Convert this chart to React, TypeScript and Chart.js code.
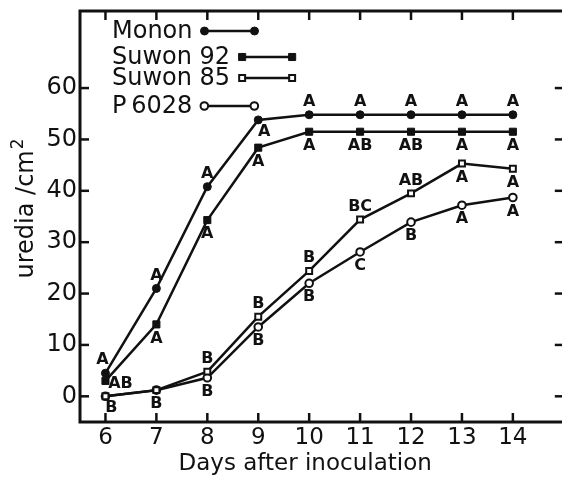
import React, { useEffect, useRef } from "react";
import { Chart, registerables } from "chart.js";

Chart.register(...registerables);

// ---- data ----
const days = [6, 7, 8, 9, 10, 11, 12, 13, 14];
const yTickValues = [0, 10, 20, 30, 40, 50, 60];
const seriesNames = ["Monon", "Suwon 92", "Suwon 85", "P\u20096028"];

const mononValues = [4.5, 21, 40.8, 53.8, 54.8, 54.8, 54.8, 54.8, 54.8];
const suwon92Values = [3, 14, 34.3, 48.4, 51.5, 51.5, 51.5, 51.5, 51.5];
const suwon85Values = [0, 1.2, 4.8, 15.5, 24.4, 34.4, 39.5, 45.3, 44.3];
const p6028Values = [0, 1.2, 3.6, 13.5, 22.0, 28.1, 33.9, 37.2, 38.7];

const mononLetters = ["A", "A", "A", "A", "A", "A", "A", "A", "A"];
const suwon92Letters = ["AB", "A", "A", "A", "A", "AB", "AB", "A", "A"];
const suwon85Letters = ["B", "B", "B", "B", "B", "BC", "AB", "A", "A"];
const p6028Letters = ["", "", "B", "B", "B", "C", "B", "A", "A"];

// ---- styling (placement of letters relative to points) ----
const mononPlace = ["ul", "a", "a", "br", "a", "a", "a", "a", "a"];
const suwon92Place = ["r", "b", "b", "b", "b", "b", "b", "b", "b"];
const suwon85Place = ["br", "b", "a", "a", "a", "a", "a", "b", "b"];
const p6028Place = ["b", "b", "b", "b", "b", "b", "b", "b", "b"];

const placeOffsets: Record<string, [number, number]> = {
  a: [0, -13],
  b: [0, 14],
  ul: [-3, -13],
  br: [6, 12],
  r: [15, 3],
};

const FONT = "'DejaVu Sans', sans-serif";
const INK = "#111";

const letterSets = [mononLetters, suwon92Letters, suwon85Letters, p6028Letters];
const placeSets = [mononPlace, suwon92Place, suwon85Place, p6028Place];

const markerStyles = [
  { pointStyle: "circle", radius: 4, fill: INK, border: 1 },
  { pointStyle: "rect", radius: 5, fill: INK, border: 1 },
  { pointStyle: "rect", radius: 4.2, fill: "#fff", border: 2 },
  { pointStyle: "circle", radius: 3.8, fill: "#fff", border: 2 },
];

function drawMarker(ctx: CanvasRenderingContext2D, x: number, y: number, i: number) {
  const m = markerStyles[i];
  ctx.save();
  ctx.fillStyle = m.fill;
  ctx.strokeStyle = INK;
  ctx.lineWidth = m.border;
  ctx.beginPath();
  if (m.pointStyle === "circle") {
    ctx.arc(x, y, m.radius, 0, Math.PI * 2);
  } else {
    const s = m.radius * Math.SQRT1_2;
    ctx.rect(x - s, y - s, 2 * s, 2 * s);
  }
  ctx.fill();
  ctx.stroke();
  ctx.restore();
}

const decorPlugin = {
  id: "decor",
  afterDatasetsDraw(chart: any) {
    const { ctx, chartArea: ca, scales } = chart;
    const xs = scales.x;
    const ys = scales.y;
    ctx.save();

    // frame
    ctx.strokeStyle = INK;
    ctx.lineWidth = 3;
    ctx.strokeRect(ca.left, ca.top, ca.right - ca.left, ca.bottom - ca.top);
    ctx.lineWidth = 2.5;
    const seg = (x1: number, y1: number, x2: number, y2: number) => {
      ctx.beginPath();
      ctx.moveTo(x1, y1);
      ctx.lineTo(x2, y2);
      ctx.stroke();
    };
    for (const d of days) {
      const px = xs.getPixelForValue(d);
      seg(px, ca.bottom, px, ca.bottom - 9);
      seg(px, ca.top, px, ca.top + 9);
    }
    for (const v of yTickValues) {
      const py = ys.getPixelForValue(v);
      seg(ca.left, py, ca.left + 9, py);
      seg(ca.right, py, ca.right - 9, py);
    }

    // significance letters
    ctx.fillStyle = INK;
    ctx.font = `bold 16px ${FONT}`;
    ctx.textAlign = "center";
    ctx.textBaseline = "middle";
    chart.data.datasets.forEach((_ds: any, i: number) => {
      const meta = chart.getDatasetMeta(i);
      meta.data.forEach((pt: any, j: number) => {
        const txt = letterSets[i][j];
        if (!txt) return;
        const off = placeOffsets[placeSets[i][j]];
        ctx.fillText(txt, pt.x + off[0], pt.y + off[1]);
      });
    });

    // legend
    ctx.font = `24px ${FONT}`;
    ctx.textAlign = "left";
    ctx.textBaseline = "alphabetic";
    const baselines = [27, 53, 74, 102];
    const legendX = ca.left + 32;
    seriesNames.forEach((name, i) => {
      const by = ca.top + baselines[i];
      ctx.fillText(name, legendX, by);
      const w = ctx.measureText(name).width;
      const x1 = legendX + w + 12;
      const x2 = x1 + 50;
      const ly = by - 7;
      ctx.lineWidth = 2.5;
      ctx.strokeStyle = INK;
      seg(x1, ly, x2, ly);
      drawMarker(ctx, x1, ly, i);
      drawMarker(ctx, x2, ly, i);
    });

    // axis titles
    ctx.font = `23px ${FONT}`;
    ctx.textAlign = "center";
    ctx.textBaseline = "alphabetic";
    ctx.fillText("Days after inoculation", xs.getPixelForValue(10) - 4, 470);

    ctx.save();
    const yMid = (ca.top + ca.bottom) / 2 - 8;
    ctx.translate(33, yMid);
    ctx.rotate(-Math.PI / 2);
    ctx.font = `24px ${FONT}`;
    const main = "uredia /cm";
    const w1 = ctx.measureText(main).width;
    ctx.font = `17px ${FONT}`;
    const w2 = ctx.measureText("2").width;
    const start = -(w1 + w2 + 1) / 2;
    ctx.textAlign = "left";
    ctx.font = `24px ${FONT}`;
    ctx.fillText(main, start, 0);
    ctx.font = `17px ${FONT}`;
    ctx.fillText("2", start + w1 + 1, -10);
    ctx.restore();

    ctx.restore();
  },
};

export default function App() {
  const ref = useRef<HTMLCanvasElement | null>(null);

  useEffect(() => {
    if (!ref.current) return;
    const seriesValues = [mononValues, suwon92Values, suwon85Values, p6028Values];
    const datasets = seriesValues.map((vals, i) => ({
      label: seriesNames[i],
      data: vals.map((v, j) => ({ x: days[j], y: v })),
      borderColor: INK,
      borderWidth: 2.5,
      tension: 0,
      fill: false,
      pointStyle: markerStyles[i].pointStyle,
      pointRadius: markerStyles[i].radius,
      pointBackgroundColor: markerStyles[i].fill,
      pointBorderColor: INK,
      pointBorderWidth: markerStyles[i].border,
    }));

    const chart = new Chart(ref.current, {
      type: "line",
      data: { datasets } as any,
      options: {
        responsive: false,
        animation: false,
        devicePixelRatio: 1,
        layout: { padding: { left: 0, right: 4, top: 11, bottom: 0 } },
        plugins: {
          legend: { display: false },
          tooltip: { enabled: false },
          title: { display: false },
        },
        scales: {
          x: {
            type: "linear",
            min: 5.5,
            max: 15,
            grid: { display: false, drawTicks: false },
            border: { display: false },
            afterBuildTicks: (s: any) => {
              s.ticks = days.map((v) => ({ value: v }));
            },
            afterFit: (s: any) => {
              s.height = 55;
              s.paddingLeft = 0;
              s.paddingRight = 0;
            },
            ticks: {
              padding: 2,
              color: INK,
              autoSkip: false,
              maxRotation: 0,
              font: { family: FONT, size: 23 },
              callback: (v: any) => String(v),
            },
          },
          y: {
            type: "linear",
            min: -5,
            max: 75,
            grid: { display: false, drawTicks: false },
            border: { display: false },
            afterBuildTicks: (s: any) => {
              s.ticks = yTickValues.map((v) => ({ value: v }));
            },
            afterFit: (s: any) => {
              s.width = 80;
              s.paddingTop = 0;
              s.paddingBottom = 0;
            },
            ticks: {
              padding: 3,
              color: INK,
              font: { family: FONT, size: 24 },
              callback: (v: any) => String(v),
            },
          },
        },
      } as any,
      plugins: [decorPlugin],
    });
    return () => chart.destroy();
  }, []);

  return (
    <div
      style={{
        position: "fixed",
        left: 0,
        top: 0,
        width: 562,
        height: 477,
        overflow: "hidden",
        background: "#fff",
      }}
    >
      <canvas ref={ref} width={570} height={477} style={{ display: "block" }} />
    </div>
  );
}
